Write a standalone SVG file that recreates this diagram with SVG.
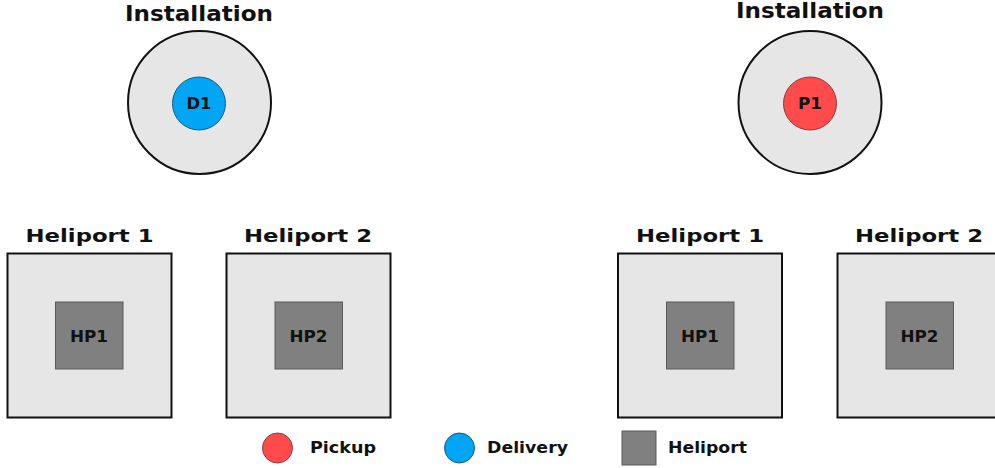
<svg xmlns="http://www.w3.org/2000/svg" width="995" height="468" viewBox="0 0 995 468">
<style>
text{font-family:"DejaVu Sans","Verdana",sans-serif;font-weight:bold;fill:#111;text-anchor:middle}
.t{font-size:20.5px}
.h{font-size:18.5px}
.s{font-size:16px}
.l{font-size:16px;text-anchor:start}
.outer{fill:#e6e6e6;stroke:#111;stroke-width:2}
.hp{fill:#808080;stroke:#5a5a5a;stroke-width:1}
.red{fill:#ff4b4b;stroke:#8a3a3a;stroke-width:1}
.blue{fill:#00a6f5;stroke:#1a5a7a;stroke-width:1}
</style>
<rect width="995" height="468" fill="#fff"/>
<g id="inst-left">
<text class="t" x="199" y="21" textLength="148" lengthAdjust="spacingAndGlyphs">Installation</text>
<circle class="outer" cx="199.5" cy="102.5" r="71.5"/>
<circle class="blue" cx="199" cy="103.5" r="26.5"/>
<text class="s" x="199" y="109.3" textLength="25" lengthAdjust="spacingAndGlyphs">D1</text>
</g>
<g id="inst-right">
<text class="t" x="810" y="18" textLength="148" lengthAdjust="spacingAndGlyphs">Installation</text>
<circle class="outer" cx="810" cy="102.5" r="71.5"/>
<circle class="red" cx="810" cy="103.5" r="26.5"/>
<text class="s" x="810" y="109.3" textLength="24" lengthAdjust="spacingAndGlyphs">P1</text>
</g>
<g id="hel1-left">
<text class="h" x="89.5" y="241.7" textLength="128" lengthAdjust="spacingAndGlyphs">Heliport 1</text>
<rect class="outer" x="7.5" y="253.5" width="164" height="164"/>
<rect class="hp" x="55.5" y="302" width="67.5" height="67"/>
<text class="s" x="89" y="342" textLength="38" lengthAdjust="spacingAndGlyphs">HP1</text>
</g>
<g id="hel2-left">
<text class="h" x="308" y="241.7" textLength="128" lengthAdjust="spacingAndGlyphs">Heliport 2</text>
<rect class="outer" x="226.5" y="253.5" width="164" height="164"/>
<rect class="hp" x="275" y="302" width="67.5" height="67"/>
<text class="s" x="308.5" y="342" textLength="38" lengthAdjust="spacingAndGlyphs">HP2</text>
</g>
<g id="hel1-right">
<text class="h" x="700" y="241.7" textLength="128" lengthAdjust="spacingAndGlyphs">Heliport 1</text>
<rect class="outer" x="618" y="253.5" width="164" height="164"/>
<rect class="hp" x="666.5" y="302" width="67.5" height="67"/>
<text class="s" x="700" y="342" textLength="38" lengthAdjust="spacingAndGlyphs">HP1</text>
</g>
<g id="hel2-right">
<text class="h" x="919" y="241.7" textLength="128" lengthAdjust="spacingAndGlyphs">Heliport 2</text>
<rect class="outer" x="837.5" y="253.5" width="164" height="164"/>
<rect class="hp" x="886" y="302" width="67.5" height="67"/>
<text class="s" x="919.5" y="342" textLength="38" lengthAdjust="spacingAndGlyphs">HP2</text>
</g>
<g id="legend">
<circle class="red" cx="277.5" cy="448" r="15"/>
<text class="l" x="310" y="453.3" textLength="66" lengthAdjust="spacingAndGlyphs">Pickup</text>
<circle class="blue" cx="459.5" cy="448" r="15"/>
<text class="l" x="487" y="453.3" textLength="81" lengthAdjust="spacingAndGlyphs">Delivery</text>
<rect class="hp" x="622" y="431" width="34" height="34"/>
<text class="l" x="668" y="453.3" textLength="79" lengthAdjust="spacingAndGlyphs">Heliport</text>
</g>
<g id="connectors"/>
</svg>
